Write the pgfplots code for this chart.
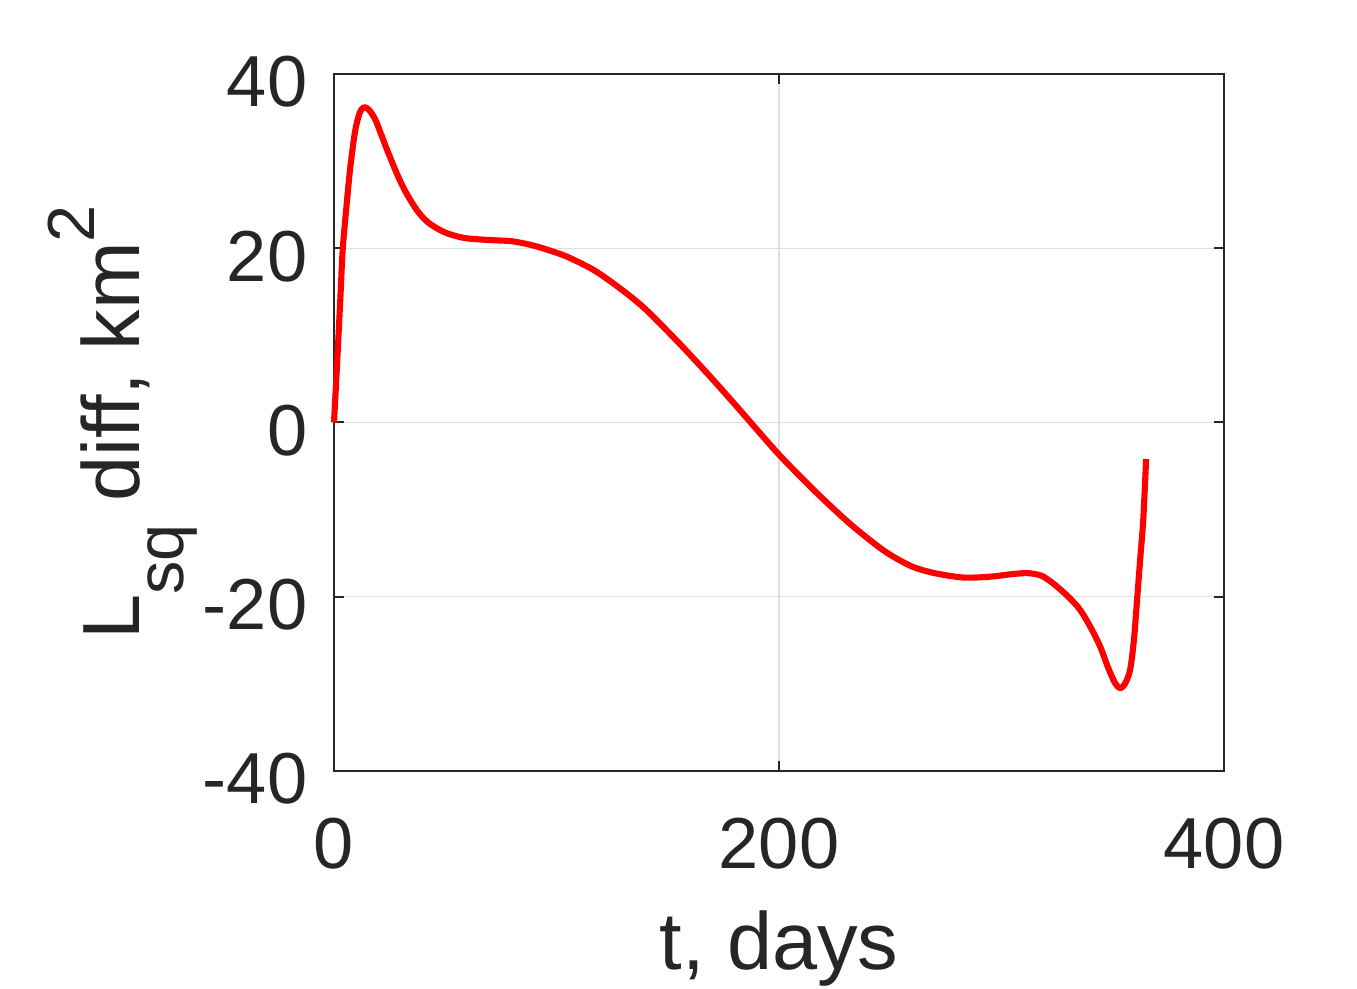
\documentclass[border=0pt]{standalone}
\usepackage{pgfplots}
\pgfplotsset{compat=1.18}
\usepackage{fontspec}
\setmainfont{Liberation Sans}
\definecolor{axc}{RGB}{38,38,38}
\definecolor{gridc}{RGB}{223,223,223}
\begin{document}
\begin{tikzpicture}
\begin{axis}[
  scale only axis,
  width=320.4pt, height=250.9pt,
  xmin=0, xmax=400, ymin=-40, ymax=40,
  xtick={0,200,400}, ytick={-40,-20,0,20,40},
  grid=major,
  major grid style={gridc, line width=0.5pt},
  axis line style={axc, line width=0.7pt},
  tick style={axc, line width=0.7pt},
  major tick length=3.6pt,
  tick align=inside,
  xtick pos=both, ytick pos=both,
  /pgf/number format/assume math mode=true,
  ticklabel style={font=\fontsize{26}{30}\selectfont, text=axc},
  xticklabel style={inner sep=0pt, yshift=-16.9pt},
  yticklabel style={inner sep=0pt, xshift=-9.4pt, yshift=-2.9pt},
  label style={font=\fontsize{29.2}{34}\selectfont, text=axc},
  xlabel={t, days},
  ylabel={L\raisebox{-15.8pt}{\fontsize{24}{28}\selectfont sq} diff, km\raisebox{16.2pt}{\fontsize{24}{28}\selectfont 2}},
  xlabel style={at={(axis description cs:0.5,-0.2856)}, anchor=base, inner sep=0pt},
  ylabel style={at={(axis description cs:-0.218,0.5)}, anchor=base, inner sep=0pt, rotate=0},
  clip=false,
]
\addplot[red, line width=2.2pt, smooth, tension=0.5, line join=round] coordinates {
(0,0) (1,4.8) (2,9.8) (3,15) (3.9,19.8) (5.5,24.5) (7.2,29) (9.4,33.3) (11.5,35.5)
(13.6,36.2) (16,35.8) (18.5,34.8) (20.7,33.4) (24,31.2) (28.2,28.6) (31.5,26.8)
(35.6,25.0) (39,23.8) (43.1,22.8) (50,21.8) (58.1,21.2) (66,21.0) (73.1,20.9) (80,20.8)
(88.1,20.4) (95,19.9) (103.1,19.2) (110,18.4) (118,17.3) (128.5,15.4) (140,13.0)
(155.5,9.0) (170,5.0) (182.5,1.4) (190,-0.8) (200.4,-3.8) (215,-7.6) (227.4,-10.6)
(235,-12.3) (245.4,-14.4) (252,-15.5) (260.4,-16.6) (270,-17.3) (282.8,-17.8)
(295,-17.7) (305,-17.4) (312,-17.3) (318,-17.6) (323.3,-18.5) (330,-20.0) (335.3,-21.5)
(340,-23.5) (344.3,-25.7) (348,-28.2) (351,-29.9) (353.3,-30.5) (355.5,-30.0)
(357.8,-28.4) (359.5,-25) (360.8,-20.8) (362.3,-15.8) (363.7,-11.2) (365,-4.2)
};
\end{axis}
\pgfresetboundingbox
\useasboundingbox ([shift={(-120.24pt,-78.48pt)}]current axis.south west) rectangle ([shift={(47.88pt,26.64pt)}]current axis.north east);
\end{tikzpicture}
\end{document}
